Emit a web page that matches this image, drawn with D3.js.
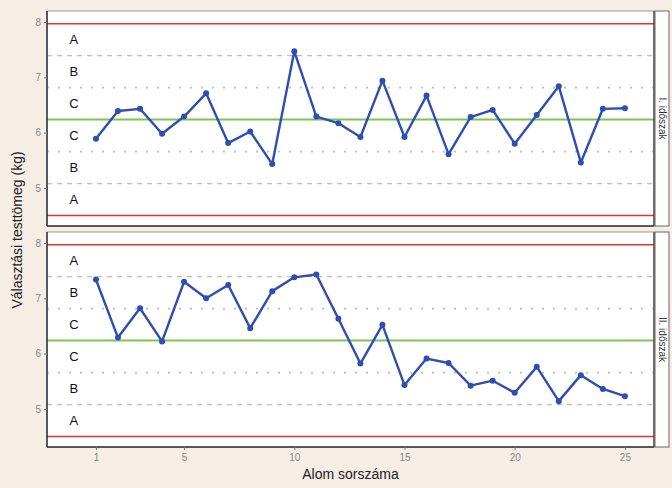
<!DOCTYPE html>
<html>
<head>
<meta charset="utf-8">
<script src="https://cdn.jsdelivr.net/npm/d3@7"></script>
<style>
  body { margin: 0; background: #f6ede4; }
  svg { display: block; font-family: "Liberation Sans", Arial, sans-serif; }
</style>
</head>
<body>
<div id="chart"></div>
<script>
// litter index
var litters = d3.range(1, 26);
var xTicks = [1, 5, 10, 15, 20, 25];
var yTicks = [5, 6, 7, 8];
var periods = ["I. időszak", "II. időszak"];

var period1 = [5.89, 6.39, 6.43, 5.98, 6.29, 6.71, 5.81, 6.02, 5.43, 7.47, 6.29, 6.17, 5.92,
  6.94, 5.92, 6.67, 5.61, 6.28, 6.41, 5.80, 6.32, 6.84, 5.46, 6.43, 6.44];
var period2 = [7.34, 6.29, 6.82, 6.22, 7.30, 7.00, 7.24, 6.46, 7.13, 7.38, 7.43, 6.63, 5.82,
  6.52, 5.43, 5.91, 5.83, 5.42, 5.51, 5.29, 5.76, 5.14, 5.61, 5.36, 5.23];

// control limits (same for both periods)
var ucl = [7.97, 7.97];
var cl = [6.235, 6.235];
var lcl = [4.50, 4.50];
var zoneLabels = ["A", "B", "C", "C", "B", "A"];

var series = [period1, period2];

var W = 672, H = 488;
var left = 47, right = 654, stripW = 14;
var panelTops = [11, 232], panelH = 215;

var svg = d3.select("#chart").append("svg").attr("width", W).attr("height", H);

var x = d3.scaleLinear().domain([-1.22, 26.32]).range([left, right]);

series.forEach(function(vals, i) {
  var top = panelTops[i];
  var y = d3.scaleLinear().domain([4.31, 8.2]).range([top + panelH, top]);
  var g = svg.append("g");
  var sigma = (ucl[i] - cl[i]) / 3;

  g.append("rect").attr("x", left).attr("y", top).attr("width", right - left).attr("height", panelH)
    .attr("fill", "#fff").attr("stroke", "#9a9a9a").attr("stroke-width", 1);

  // zone lines
  [2, -2].forEach(function(k) {
    g.append("line").attr("x1", left).attr("x2", right)
      .attr("y1", y(cl[i] + k * sigma)).attr("y2", y(cl[i] + k * sigma))
      .attr("stroke", "#bdbdbd").attr("stroke-width", 1.3).attr("stroke-dasharray", "5,5");
  });
  [1, -1].forEach(function(k) {
    g.append("line").attr("x1", left).attr("x2", right)
      .attr("y1", y(cl[i] + k * sigma)).attr("y2", y(cl[i] + k * sigma))
      .attr("stroke", "#bdbdbd").attr("stroke-width", 1.8).attr("stroke-dasharray", "2,9");
  });
  [ucl[i], lcl[i]].forEach(function(v) {
    g.append("line").attr("x1", left).attr("x2", right).attr("y1", y(v)).attr("y2", y(v))
      .attr("stroke", "#e8322c").attr("stroke-width", 1.5);
  });
  g.append("line").attr("x1", left).attr("x2", right).attr("y1", y(cl[i])).attr("y2", y(cl[i]))
    .attr("stroke", "#7cc553").attr("stroke-width", 2);

  // zone labels at x = 0
  var mids = [2.5, 1.5, 0.5, -0.5, -1.5, -2.5];
  mids.forEach(function(m, j) {
    g.append("text").attr("x", x(0)).attr("y", y(cl[i] + m * sigma)).attr("dy", "0.36em")
      .attr("text-anchor", "middle").attr("font-size", 13).attr("fill", "#111").text(zoneLabels[j]);
  });

  var line = d3.line().x(function(d, k) { return x(litters[k]); }).y(function(d) { return y(d); });
  g.append("path").datum(vals).attr("d", line).attr("fill", "none")
    .attr("stroke", "#2f4db3").attr("stroke-width", 2.4).attr("stroke-linejoin", "round");
  g.selectAll("circle").data(vals).enter().append("circle")
    .attr("cx", function(d, k) { return x(litters[k]); }).attr("cy", function(d) { return y(d); })
    .attr("r", 3).attr("fill", "#2f4db3");

  // axes lines
  g.append("line").attr("x1", left).attr("x2", left).attr("y1", top).attr("y2", top + panelH)
    .attr("stroke", "#333").attr("stroke-width", 1.5);
  g.append("line").attr("x1", left).attr("x2", right).attr("y1", top + panelH).attr("y2", top + panelH)
    .attr("stroke", "#333").attr("stroke-width", 1.5);
  g.append("line").attr("x1", right).attr("x2", right).attr("y1", top).attr("y2", top + panelH)
    .attr("stroke", "#333").attr("stroke-width", 1.2);

  var yAxis = d3.axisLeft(y).tickValues(yTicks).tickFormat(d3.format("d")).tickSize(3).tickPadding(3);
  var ya = g.append("g").attr("transform", "translate(" + left + ",0)").call(yAxis);
  ya.select(".domain").remove();
  ya.selectAll("line").attr("stroke", "#777");
  ya.selectAll("text").attr("fill", "#888").attr("font-size", 10).attr("font-family", "Liberation Sans, Arial, sans-serif");

  // strip
  g.append("rect").attr("x", right + 1).attr("y", top).attr("width", stripW).attr("height", panelH)
    .attr("fill", "#fff").attr("stroke", "#666").attr("stroke-width", 1);
  g.append("text").attr("transform", "translate(" + (right + 1 + stripW / 2) + "," + (top + panelH / 2) + ") rotate(90)")
    .attr("text-anchor", "middle").attr("dy", "0.35em").attr("font-size", 10).attr("fill", "#333").text(periods[i]);
});

var xAxis = d3.axisBottom(x).tickValues(xTicks).tickSize(3).tickPadding(4);
var xa = svg.append("g").attr("transform", "translate(0," + (panelTops[1] + panelH) + ")").call(xAxis);
xa.select(".domain").remove();
xa.selectAll("line").attr("stroke", "#777");
xa.selectAll("text").attr("fill", "#888").attr("font-size", 10).attr("font-family", "Liberation Sans, Arial, sans-serif");

svg.append("text").attr("x", (left + right) / 2).attr("y", 479).attr("text-anchor", "middle")
  .attr("font-size", 14).attr("fill", "#222").text("Alom sorszáma");
svg.append("text").attr("transform", "translate(22," + 230 + ") rotate(-90)").attr("text-anchor", "middle")
  .attr("font-size", 14).attr("fill", "#222").text("Választási testtömeg (kg)");
</script>
</body>
</html>
